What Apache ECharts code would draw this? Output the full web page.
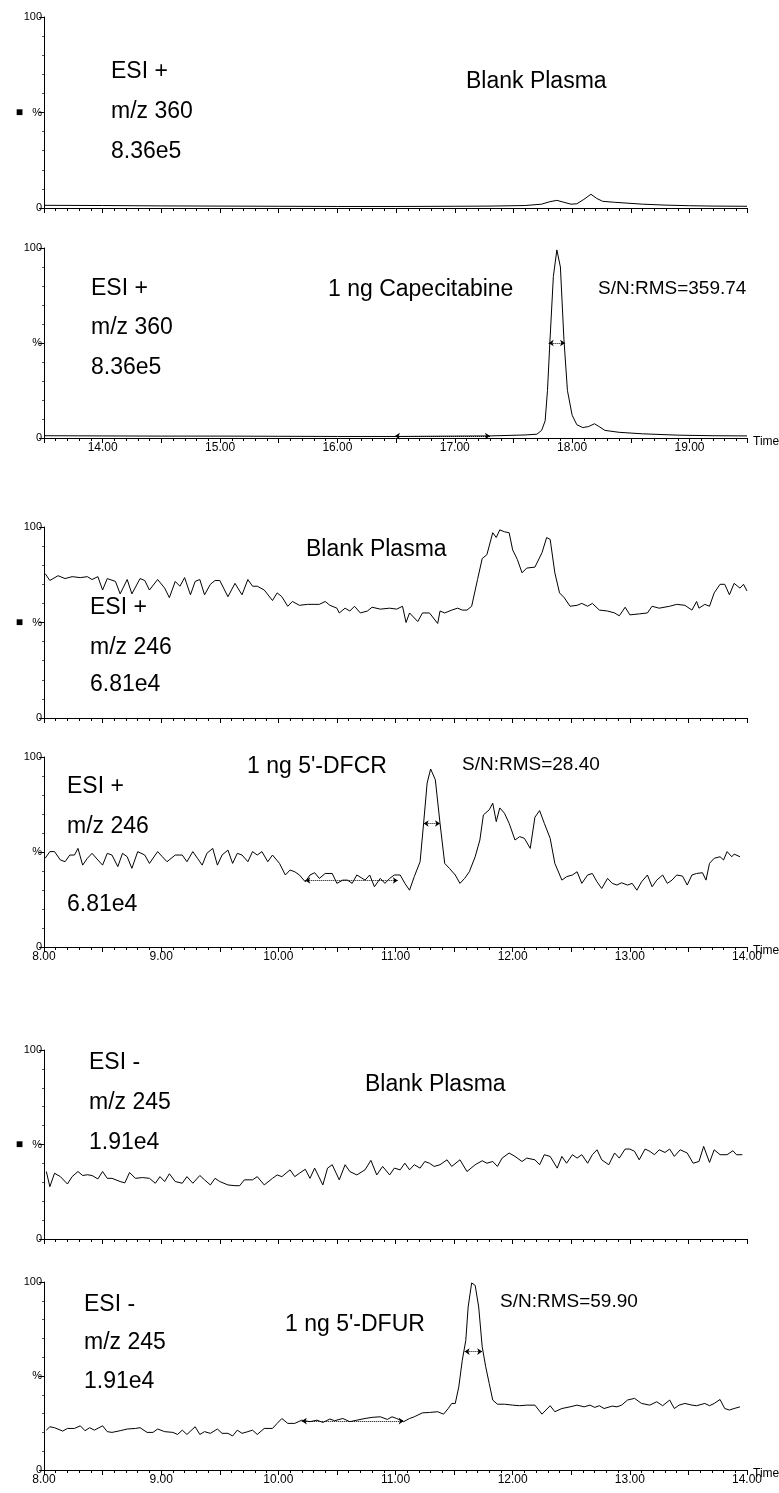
<!DOCTYPE html>
<html>
<head>
<meta charset="utf-8">
<script src="https://cdn.jsdelivr.net/npm/echarts@6/dist/echarts.min.js"></script>
<style>
html,body{margin:0;padding:0;background:#fff;}
#main{width:779px;height:1493px;}
</style>
</head>
<body>
<div id="main"></div>
<script>
// capecitabine, m/z 360 (blank plasma, then 1 ng spike)
var p1Time = [13.5,14.0,14.5,15.0,15.5,16.0,16.5,17.0,17.3,17.6,17.74,17.81,17.87,17.93,17.99,18.04,18.10,18.16,18.21,18.26,18.36,18.6,18.8,19.0,19.2,19.49];
var p1Int = [1.4,1.3,1.1,1.0,0.9,0.8,0.8,0.9,1.0,1.3,2.0,3.3,4.0,3.0,2.0,2.2,4.5,7.2,5.0,3.5,3.0,2.0,1.5,1.2,1.0,0.9];

var p2Time = [13.5,14.0,14.5,15.0,15.5,16.0,16.5,17.0,17.3,17.6,17.7,17.74,17.77,17.79,17.81,17.84,17.87,17.90,17.93,17.96,18.00,18.04,18.09,18.14,18.19,18.23,18.28,18.4,18.6,18.9,19.2,19.49];
var p2Int = [1.2,1.1,1.0,1.0,0.9,0.8,0.8,1.0,1.1,1.6,2.0,4,9,25,50,85,99,90,52,25,12,7,5.5,6,7.5,6,4,3,2.2,1.5,1.2,1.1];

// 5'-DFCR, m/z 246
var p3Time = [8.01,8.05,8.12,8.18,8.24,8.31,8.37,8.41,8.46,8.50,8.54,8.61,8.65,8.71,8.75,8.82,8.86,8.90,8.97,9.03,9.07,9.12,9.16,9.20,9.25,9.29,9.33,9.37,9.42,9.46,9.50,9.57,9.63,9.69,9.74,9.78,9.82,9.88,9.95,9.99,10.03,10.08,10.12,10.18,10.25,10.35,10.40,10.44,10.50,10.52,10.57,10.61,10.65,10.70,10.76,10.80,10.87,10.95,11.01,11.06,11.09,11.12,11.19,11.23,11.29,11.36,11.38,11.42,11.48,11.53,11.57,11.61,11.65,11.70,11.74,11.78,11.83,11.86,11.89,11.93,11.97,12.00,12.04,12.08,12.12,12.19,12.25,12.29,12.32,12.36,12.40,12.44,12.49,12.55,12.59,12.64,12.68,12.74,12.81,12.87,12.91,12.96,13.00,13.08,13.15,13.19,13.25,13.34,13.40,13.47,13.53,13.57,13.59,13.64,13.68,13.72,13.77,13.81,13.85,13.89,13.94,13.97,14.00];
var p3Int = [75.6,72,74.5,73,74,73.5,74,72.5,74,67,73,71.5,65,72.5,65,73,72,67,72.5,68,63,71.5,69,73.5,64.5,71.5,72.5,64.5,70,72,72,63.5,70.5,64.5,72.5,69,69,67,61.5,65.5,63.5,58.5,61,59,59.5,59.5,61,59,57.5,55,57.5,56,58.5,55,56,58,57,57.5,57,58.5,50,55,50.5,55,55,49.5,56,55,56.5,57.5,56.5,56.5,58.5,72.5,83.5,85.5,97,94.5,98.5,97.5,97,88,83,76,78.5,79,86.5,94.5,93.5,76,65.5,63,58.5,59,60,58.5,60,56.5,56,55,53.5,58,54,54.5,55,58.5,57.5,58.5,59.5,59,56.5,61,57.5,59.5,58.5,65.5,70,70,64.5,70.5,68,70,66.5];

var p4Time = [8.01,8.05,8.09,8.14,8.18,8.22,8.26,8.29,8.33,8.37,8.41,8.46,8.50,8.54,8.58,8.63,8.67,8.71,8.75,8.80,8.86,8.90,8.97,9.01,9.05,9.12,9.18,9.22,9.27,9.31,9.35,9.39,9.44,9.48,9.52,9.57,9.61,9.65,9.69,9.74,9.78,9.82,9.86,9.91,9.95,10.01,10.06,10.10,10.14,10.18,10.23,10.27,10.31,10.35,10.40,10.46,10.50,10.55,10.59,10.63,10.67,10.74,10.78,10.82,10.87,10.91,10.95,10.99,11.04,11.08,11.12,11.16,11.21,11.24,11.27,11.30,11.34,11.38,11.42,11.46,11.51,11.55,11.59,11.63,11.68,11.72,11.75,11.80,11.83,11.86,11.89,11.93,11.97,12.02,12.06,12.10,12.15,12.19,12.23,12.27,12.32,12.36,12.42,12.46,12.51,12.55,12.59,12.64,12.68,12.72,12.76,12.81,12.85,12.89,12.93,12.98,13.02,13.06,13.10,13.15,13.19,13.23,13.28,13.32,13.36,13.40,13.45,13.49,13.53,13.57,13.62,13.65,13.68,13.72,13.77,13.80,13.83,13.87,13.89,13.94];
var p4Int = [46.7,50.2,50.2,45.8,44.9,48.4,48.4,51.9,43.1,46.7,49.3,45.8,43.1,49.3,48.4,42.3,49.3,47.5,41.4,50.2,48.4,44,50.2,47.5,44.9,48.4,48.4,44.9,50.2,46.7,43.1,49.3,51.9,43.1,48.4,51,44,49.3,48.4,44.9,50.2,48.4,50.2,44.9,48.4,44,37.9,40.5,39.6,37.9,34.3,37.9,39.1,36.1,38.7,38.7,33.5,35.2,35.2,33.5,37.9,35.2,37.9,31.7,36.1,33.5,36.1,37.9,37.9,33.5,29.9,37,44.9,65.1,86.3,93.7,88,65.1,44,41.4,37.9,33.5,36.1,39.6,47.5,56.3,69.5,72.2,75.7,66,73.2,70.4,65.1,56.3,58.1,57.2,51.9,68.3,71.8,65.1,57.2,44,35.2,37,37.9,39.6,33.5,37.9,38.7,34.3,30.8,36.1,33.5,32.6,33.8,32.6,33.5,29.9,34.3,37.9,31.7,35.2,37.9,33.5,35.2,37.9,37.3,32.6,37.9,38.7,39.1,35.2,44,46.7,47.5,45.8,50.2,47.5,48.9,47.5];

// 5'-DFUR, m/z 245
var p5Time = [8.02,8.05,8.09,8.14,8.20,8.24,8.29,8.33,8.37,8.41,8.46,8.50,8.54,8.58,8.65,8.69,8.73,8.78,8.84,8.90,8.95,8.99,9.03,9.07,9.12,9.18,9.22,9.27,9.33,9.37,9.42,9.46,9.50,9.57,9.63,9.67,9.71,9.78,9.82,9.88,9.95,9.99,10.03,10.10,10.14,10.18,10.23,10.27,10.31,10.38,10.42,10.46,10.52,10.57,10.61,10.67,10.74,10.79,10.84,10.89,10.95,10.99,11.04,11.08,11.12,11.16,11.21,11.25,11.29,11.33,11.38,11.44,11.48,11.55,11.61,11.68,11.74,11.78,11.83,11.87,11.91,11.97,12.02,12.08,12.12,12.19,12.23,12.27,12.32,12.38,12.42,12.46,12.51,12.55,12.59,12.64,12.68,12.72,12.76,12.82,12.87,12.91,12.96,13.00,13.04,13.08,13.13,13.17,13.21,13.25,13.30,13.34,13.38,13.43,13.49,13.54,13.59,13.63,13.68,13.72,13.77,13.83,13.88,13.91,13.96];
var p5Int = [35.7,27.7,34.8,33,29.1,33,35.7,33.6,34,33.6,31.8,35.7,32.1,32.1,30.4,29.7,35.2,32.1,32.5,32.1,29.5,33,30.4,34.5,30.4,29.5,33,29.5,33.6,31.3,28.6,32.1,30.4,28.6,28.2,28.2,31.3,31.3,33,28.6,32.1,33.9,33,36.6,33,34.8,36.9,32.1,37.5,28.6,37.5,39.3,31.3,39.3,35.7,33.9,36.6,41.6,33.9,38.4,33.9,37.5,36.6,40.1,36.6,39.3,37.5,41,40.1,38.4,39.3,41.9,38.4,41.9,35.7,39.3,41.4,40.1,41,38.4,42.8,45.5,43.7,41,42.8,41.9,39.3,44.6,43.7,37.5,43.7,40.1,44.6,42.8,44.6,40.1,44.6,47.2,41.9,39.3,45.5,42.8,47.6,47.6,46.4,41.9,47.6,46.4,44.6,47.2,45.8,47.6,43.7,47.2,45.5,40.1,41,49,40.5,47.2,44.6,44.6,46.7,44.6,44.6];

var p6Time = [8.02,8.05,8.09,8.16,8.20,8.26,8.31,8.35,8.39,8.43,8.50,8.54,8.58,8.65,8.71,8.78,8.82,8.88,8.93,8.97,9.03,9.10,9.14,9.18,9.22,9.29,9.33,9.37,9.42,9.48,9.52,9.57,9.61,9.65,9.69,9.74,9.78,9.82,9.88,9.95,9.99,10.03,10.08,10.14,10.20,10.27,10.33,10.38,10.44,10.48,10.55,10.61,10.67,10.74,10.80,10.87,10.93,10.97,11.01,11.07,11.12,11.16,11.23,11.29,11.36,11.41,11.45,11.48,11.51,11.54,11.57,11.60,11.62,11.65,11.68,11.71,11.74,11.77,11.80,11.83,11.87,11.93,12.00,12.06,12.12,12.19,12.25,12.32,12.36,12.42,12.49,12.55,12.61,12.66,12.70,12.74,12.78,12.85,12.89,12.93,12.98,13.04,13.10,13.17,13.23,13.28,13.34,13.38,13.42,13.47,13.53,13.57,13.64,13.68,13.72,13.77,13.81,13.85,13.89,13.94];
var p6Int = [21.2,23,22.5,20.7,22.1,22.1,23.5,20.9,22.5,21.2,23.5,20.4,20,20.9,21.8,22.1,22.5,20,20,21.8,20.4,20,18.9,21.2,18.9,23,18.9,20.4,19.5,21.8,19.5,19.5,18.1,21.2,19.5,20.4,21.2,18.9,22.1,22.1,24.8,27.4,24.8,24.8,26.5,25.7,26.5,25.3,27.1,26.2,27.4,25.7,26.5,27.4,28,28.3,26.9,28.3,27.4,25.7,27.4,28.3,30.4,30.6,31,29.7,32.7,35.4,35.4,44.2,58.4,69,86.7,99.5,98.2,86.7,65.5,54.9,46,37.2,35,35,34.5,34.2,34.5,34.5,29.7,34.2,31,32.7,33.6,34.5,33.6,34.5,33.3,34.2,32.7,34,33.6,34.5,37.2,38.1,35.4,34.5,36.3,34.2,37.2,32.7,34.5,35.4,34.5,34.2,35.4,34.2,35.4,37.5,32.7,31.9,32.7,33.6];

// peak width at half height [from, to, level] and noise window [from, to, level]
var p2HalfWidth = [17.80, 17.94, 50];
var p2Noise = [16.49, 17.30, 1];
var p4HalfWidth = [11.24, 11.38, 65];
var p4Noise = [10.23, 11.02, 35];
var p6HalfWidth = [11.59, 11.74, 63];
var p6Noise = [10.20, 11.07, 26];

var yTickValues = [0, 50, 100];
var yTickLabels = ['0', '%', '100'];

var font = "'Liberation Sans', Arial, Helvetica, sans-serif";

var panels = [
  {top: 17, height: 191, min: 13.5, max: 19.49, time: p1Time, val: p1Int, dot: true, labels: false},
  {top: 248, height: 190, min: 13.5, max: 19.49, time: p2Time, val: p2Int, dot: false, labels: true, marks: [p2HalfWidth, p2Noise]},
  {top: 527, height: 191, min: 8, max: 14, time: p3Time, val: p3Int, dot: true, labels: false},
  {top: 757, height: 190, min: 8, max: 14, time: p4Time, val: p4Int, dot: false, labels: true, marks: [p4HalfWidth, p4Noise]},
  {top: 1050, height: 189, min: 8, max: 14, time: p5Time, val: p5Int, dot: true, labels: false},
  {top: 1282, height: 188, min: 8, max: 14, time: p6Time, val: p6Int, dot: false, labels: true, marks: [p6HalfWidth, p6Noise]}
];

// annotation text: [text, x, y, size]
var notes = [
  ['ESI +', 111, 72, 23], ['m/z 360', 111, 112, 23], ['8.36e5', 111, 152, 23], ['Blank Plasma', 466, 82, 23],
  ['ESI +', 91, 289, 23], ['m/z 360', 91, 328, 23], ['8.36e5', 91, 368, 23], ['1 ng Capecitabine', 328, 290, 23], ['S/N:RMS=359.74', 598, 289, 19],
  ['Blank Plasma', 306, 550, 23], ['ESI +', 90, 608, 23], ['m/z 246', 90, 648, 23], ['6.81e4', 90, 685, 23],
  ["1 ng 5'-DFCR", 247, 767, 23], ['S/N:RMS=28.40', 462, 765, 19], ['ESI +', 67, 787, 23], ['m/z 246', 67, 827, 23], ['6.81e4', 67, 905, 23],
  ['ESI -', 89, 1063, 23], ['m/z 245', 89, 1103, 23], ['1.91e4', 89, 1143, 23], ['Blank Plasma', 365, 1085, 23],
  ['ESI -', 84, 1305, 23], ['m/z 245', 84, 1343, 23], ['1.91e4', 84, 1382, 23], ["1 ng 5'-DFUR", 285, 1325, 23], ['S/N:RMS=59.90', 500, 1302, 19]
];

var chart = echarts.init(document.getElementById('main'));

var grids = [], xAxes = [], yAxes = [], series = [], graphics = [];
panels.forEach(function (p, i) {
  grids.push({left: 44, right: 32, top: p.top, height: p.height, containLabel: false, outerBoundsMode: 'none'});
  xAxes.push({
    type: 'value', gridIndex: i, min: p.min, max: p.max, interval: 0.5,
    axisLine: {onZero: false, lineStyle: {color: '#000', width: 1}},
    axisTick: {show: true, length: 5, lineStyle: {color: '#000'}},
    minorTick: {show: true, splitNumber: 5, length: 3, lineStyle: {color: '#000'}},
    splitLine: {show: false},
    axisLabel: {
      show: p.labels, color: '#000', fontSize: 12, fontFamily: font, margin: 4,
      formatter: function (v) {
        return Math.abs(v - Math.round(v)) < 1e-6 ? v.toFixed(2) : '';
      }
    }
  });
  yAxes.push({
    type: 'value', gridIndex: i, min: 0, max: 100, interval: 50,
    axisLine: {show: true, lineStyle: {color: '#000', width: 1}},
    axisTick: {show: true, length: 5, lineStyle: {color: '#000'}},
    minorTick: {show: true, splitNumber: 5, length: 2, lineStyle: {color: '#555'}},
    splitLine: {show: false},
    axisLabel: {
      color: '#000', fontSize: 11, fontFamily: font, margin: 2,
      formatter: function (v) {
        var lab = yTickLabels[yTickValues.indexOf(v)];
        if (lab === '%' && p.dot) return '{sq|■}   %';
        return lab;
      },
      rich: {sq: {fontSize: 12, color: '#000'}}
    }
  });
  var pairs = [];
  for (var k = 0; k < Math.min(p.time.length, p.val.length); k++) pairs.push([p.time[k], p.val[k]]);
  var s = {
    type: 'line', xAxisIndex: i, yAxisIndex: i, data: pairs,
    symbol: 'none', showSymbol: false, silent: true,
    lineStyle: {color: '#000', width: 1}
  };
  if (p.marks) {
    s.markLine = {
      silent: true, symbol: ['arrow', 'arrow'], symbolSize: 5,
      label: {show: false},
      lineStyle: {color: '#000', type: 'dotted', width: 1},
      data: p.marks.map(function (m) {
        return [{coord: [m[0], m[2]]}, {coord: [m[1], m[2]]}];
      })
    };
    // axis name, placed by hand so it sits beside the last tick label
    graphics.push({
      type: 'text', x: 753, y: p.top + p.height - 2, silent: true,
      style: {text: 'Time', font: '12px ' + font, fill: '#000', align: 'left', verticalAlign: 'top', textAlign: 'left', textVerticalAlign: 'top'}
    });
  }
  series.push(s);
});

notes.forEach(function (n) {
  graphics.push({
    type: 'text', x: n[1], y: n[2], silent: true,
    style: {text: n[0], font: n[3] + 'px ' + font, fill: '#000', align: 'left', verticalAlign: 'middle', textAlign: 'left', textVerticalAlign: 'middle'}
  });
});

chart.setOption({
  animation: false,
  backgroundColor: '#fff',
  grid: grids,
  xAxis: xAxes,
  yAxis: yAxes,
  series: series,
  graphic: graphics
});
</script>
</body>
</html>
